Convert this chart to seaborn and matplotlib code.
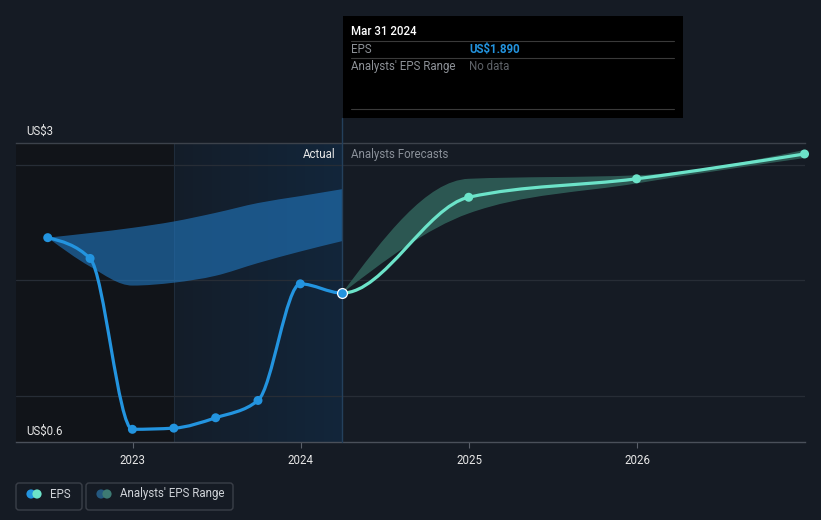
import numpy as np
import pandas as pd
import matplotlib
matplotlib.use("Agg")
import matplotlib.pyplot as plt
import matplotlib.dates as mdates
from matplotlib.path import Path
from matplotlib.patches import PathPatch, FancyBboxPatch, Rectangle, Circle
from matplotlib.lines import Line2D
from matplotlib.transforms import IdentityTransform
from matplotlib.colors import LinearSegmentedColormap
import seaborn as sns

# ---------------- data ----------------
actual_dates = ["2022-06-30", "2022-09-30", "2022-12-31", "2023-03-31",
                "2023-06-30", "2023-09-30", "2023-12-31", "2024-03-31"]
actual_eps = [2.37, 2.19, 0.71, 0.72, 0.81, 0.96, 1.97, 1.89]
past_range_low = [2.37, 2.12, 1.955, 1.98, 2.04, 2.15, 2.25, 2.34]
past_range_high = [2.37, 2.41, 2.455, 2.51, 2.585, 2.67, 2.73, 2.79]

forecast_dates = ["2024-03-31", "2024-12-31", "2025-12-31", "2026-12-31"]
forecast_eps = [1.89, 2.72, 2.88, 3.095]
forecast_low = [1.89, 2.58, 2.84, 3.06]
forecast_high = [1.89, 2.88, 2.91, 3.13]

year_ticks = ["2023", "2024", "2025", "2026"]
y_labels = ["US$3", "US$0.6"]
gridlines = [1, 2, 3]

# ---------------- style ----------------
W, H = 821, 520
BG = "#151b24"
FS = 8.3
sns.set_style("dark", {"axes.facecolor": BG, "figure.facecolor": BG})
plt.rcParams["font.family"] = ["Roboto", "DejaVu Sans"]

fig = plt.figure(figsize=(W / 100, H / 100), dpi=100)
ax = fig.add_axes([16 / W, (H - 442) / H, (805 - 16) / W, (442 - 143) / H])
ax.set_facecolor(BG)

ad = pd.to_datetime(actual_dates)
fd = pd.to_datetime(forecast_dates)
axn = mdates.date2num(ad)
fxn = mdates.date2num(fd)

x_left = pd.Timestamp("2022-04-22")
x_right = pd.Timestamp("2027-01-01")
y_lo, y_hi = 0.6, 3.19


def mono_tangents(x, y):
    x = np.asarray(x, float)
    y = np.asarray(y, float)
    n = len(x)
    h = np.diff(x)
    s = np.diff(y) / h
    t = np.zeros(n)
    for i in range(1, n - 1):
        h0, h1, s0, s1 = h[i - 1], h[i], s[i - 1], s[i]
        p = (s0 * h1 + s1 * h0) / (h0 + h1)
        t[i] = (np.sign(s0) + np.sign(s1)) * min(abs(s0), abs(s1), 0.5 * abs(p))
    if n > 2:
        t[0] = (3 * s[0] - t[1]) / 2
        t[-1] = (3 * s[-1] - t[-2]) / 2
    else:
        t[0] = t[-1] = s[0]
    return t


def bezier(x, y, t, i0=0, i1=None):
    if i1 is None:
        i1 = len(x) - 1
    verts = [(x[i0], y[i0])]
    codes = [Path.MOVETO]
    for i in range(i0, i1):
        dx = (x[i + 1] - x[i]) / 3
        verts += [(x[i] + dx, y[i] + dx * t[i]),
                  (x[i + 1] - dx, y[i + 1] - dx * t[i + 1]),
                  (x[i + 1], y[i + 1])]
        codes += [Path.CURVE4] * 3
    return verts, codes


def band_patch(x, lo, hi, **kw):
    tv, tc = bezier(x, hi, mono_tangents(x, hi))
    bv, bc = bezier(x, lo, mono_tangents(x, lo))
    bv = bv[::-1]
    verts = tv + bv + [tv[0]]
    codes = tc + [Path.LINETO] + [Path.CURVE4] * (len(bv) - 1) + [Path.CLOSEPOLY]
    return PathPatch(Path(verts, codes), **kw)


# ---------------- background regions ----------------
split1 = mdates.date2num(pd.Timestamp("2023-03-31"))
split2 = mdates.date2num(pd.Timestamp("2024-03-31"))
ax.axvspan(x_left, pd.Timestamp("2023-03-31"), color="#111419", lw=0, zorder=0)
grad = np.linspace(0, 1, 256).reshape(1, -1)
cm = LinearSegmentedColormap.from_list("hl", ["#141d29", "#12263b"])
ax.imshow(grad, extent=[split1, split2, y_lo, y_hi], aspect="auto",
          cmap=cm, zorder=0, interpolation="bilinear")
ax.axvline(pd.Timestamp("2023-03-31"), color="#1f2c3b", lw=0.8, zorder=1)

for g in gridlines:
    ax.axhline(g, color="#272d36", lw=0.9, zorder=1)

# ---------------- bands ----------------
ax.add_patch(band_patch(axn, past_range_low, past_range_high,
                        facecolor="#2176bd", alpha=0.62, lw=0, zorder=2))
ax.add_patch(band_patch(fxn, forecast_low, forecast_high,
                        facecolor="#2f5d57", alpha=0.92, lw=0, zorder=2))

# ---------------- lines ----------------
cx = np.concatenate([axn, fxn[1:]])
cy = np.concatenate([actual_eps, forecast_eps[1:]])
ct = mono_tangents(cx, cy)
n_act = len(axn)
v, c = bezier(cx, cy, ct, 0, n_act - 1)
ax.add_patch(PathPatch(Path(v, c), facecolor="none", edgecolor="#2394df",
                       lw=2.3, zorder=4, capstyle="round", joinstyle="round"))
v, c = bezier(cx, cy, ct, n_act - 1, len(cx) - 1)
ax.add_patch(PathPatch(Path(v, c), facecolor="none", edgecolor="#6ce3c9",
                       lw=2.3, zorder=4, capstyle="round", joinstyle="round"))

# ---------------- markers ----------------
df_act = pd.DataFrame({"date": ad, "eps": actual_eps})
df_fc = pd.DataFrame({"date": fd[1:], "eps": forecast_eps[1:]})
sns.scatterplot(data=df_act.iloc[:-1], x="date", y="eps", ax=ax, color="#2394df",
                s=42, edgecolor="none", zorder=5, legend=False)
sns.scatterplot(data=df_fc, x="date", y="eps", ax=ax, color="#6ce3c9",
                s=42, edgecolor="none", zorder=5, legend=False, clip_on=False)
sns.scatterplot(data=df_act.iloc[-1:], x="date", y="eps", ax=ax, color="#2394df",
                s=50, edgecolor="white", linewidth=0.9, zorder=6, legend=False)

# hover vertical line
ax.axvline(pd.Timestamp("2024-03-31"), ymin=0, ymax=(442 - 118) / (442 - 143),
           color="#24405c", lw=1.0, zorder=3, clip_on=False)

# ---------------- axes ----------------
ax.set_xlim(x_left, x_right)
ax.set_ylim(y_lo, y_hi)
ax.set_xticks([pd.Timestamp(f"{y}-01-01") for y in year_ticks])
ax.set_xticklabels(year_ticks)
ax.set_yticks([])
ax.set_xlabel("")
ax.set_ylabel("")
ax.grid(False)
ax.tick_params(axis="x", colors="#5a606a", length=4, width=0.8, pad=5,
               labelcolor="#e6e6e6", labelsize=FS, bottom=True)
for sp in ["left", "right"]:
    ax.spines[sp].set_visible(False)
ax.spines["bottom"].set_color("#4a505a")
ax.spines["bottom"].set_linewidth(1.0)
ax.spines["top"].set_color("#3c424b")
ax.spines["top"].set_linewidth(1.0)


def ft(x, y, s, **kw):
    kw.setdefault("va", "center")
    fig.text(x / W, 1 - y / H, s, **kw)


ft(26, 131, y_labels[0], color="#e6e6e6", fontsize=FS)
ft(26, 431, y_labels[1], color="#e6e6e6", fontsize=FS)
ft(335, 154, "Actual", color="#e6e6e6", fontsize=FS, ha="right")
ft(351, 154, "Analysts Forecasts", color="#8a9099", fontsize=FS)

# ---------------- tooltip ----------------
fig.add_artist(Rectangle((343 / W, 1 - 118 / H), 340 / W, 102 / H,
                         transform=fig.transFigure, facecolor="black",
                         edgecolor="none", zorder=10))
for yy in [41, 58, 109]:
    fig.add_artist(Line2D([351 / W, 674 / W], [1 - yy / H] * 2, color="#3a3a3a",
                          lw=0.8, transform=fig.transFigure, zorder=11))
ft(351, 31.5, "Mar 31 2024", color="white", fontsize=FS, zorder=12, fontweight="medium")
ft(351, 49.5, "EPS", color="#8d9197", fontsize=FS, zorder=12)
ft(469, 49.5, "US$1.890", color="#2394df", fontsize=FS, zorder=12, fontweight="bold")
ft(351, 66.5, "Analysts' EPS Range", color="#8d9197", fontsize=FS, zorder=12)
ft(469, 66.5, "No data", color="#5f6369", fontsize=FS, zorder=12)

# ---------------- legend ----------------
idt = IdentityTransform()
for (x0, w) in [(16, 66), (86, 147)]:
    fig.add_artist(FancyBboxPatch((x0, H - 510), w, 27,
                                  boxstyle="round,pad=0,rounding_size=3",
                                  transform=idt, facecolor="none",
                                  edgecolor="#3a3f48", lw=1.0))
fig.add_artist(Circle((31, H - 494), 4.6, transform=idt, color="#2394df", lw=0))
fig.add_artist(Circle((37, H - 494), 4.6, transform=idt, color="#6ce3c9", lw=0))
fig.add_artist(Circle((101, H - 494), 4.6, transform=idt, color="#24587f", lw=0))
fig.add_artist(Circle((107, H - 494), 4.6, transform=idt, color="#3d7a73", lw=0))
ft(50, 494, "EPS", color="#cfd3d8", fontsize=FS)
ft(120, 494, "Analysts' EPS Range", color="#cfd3d8", fontsize=FS)

fig.savefig("out.png", dpi=100, facecolor=BG)
